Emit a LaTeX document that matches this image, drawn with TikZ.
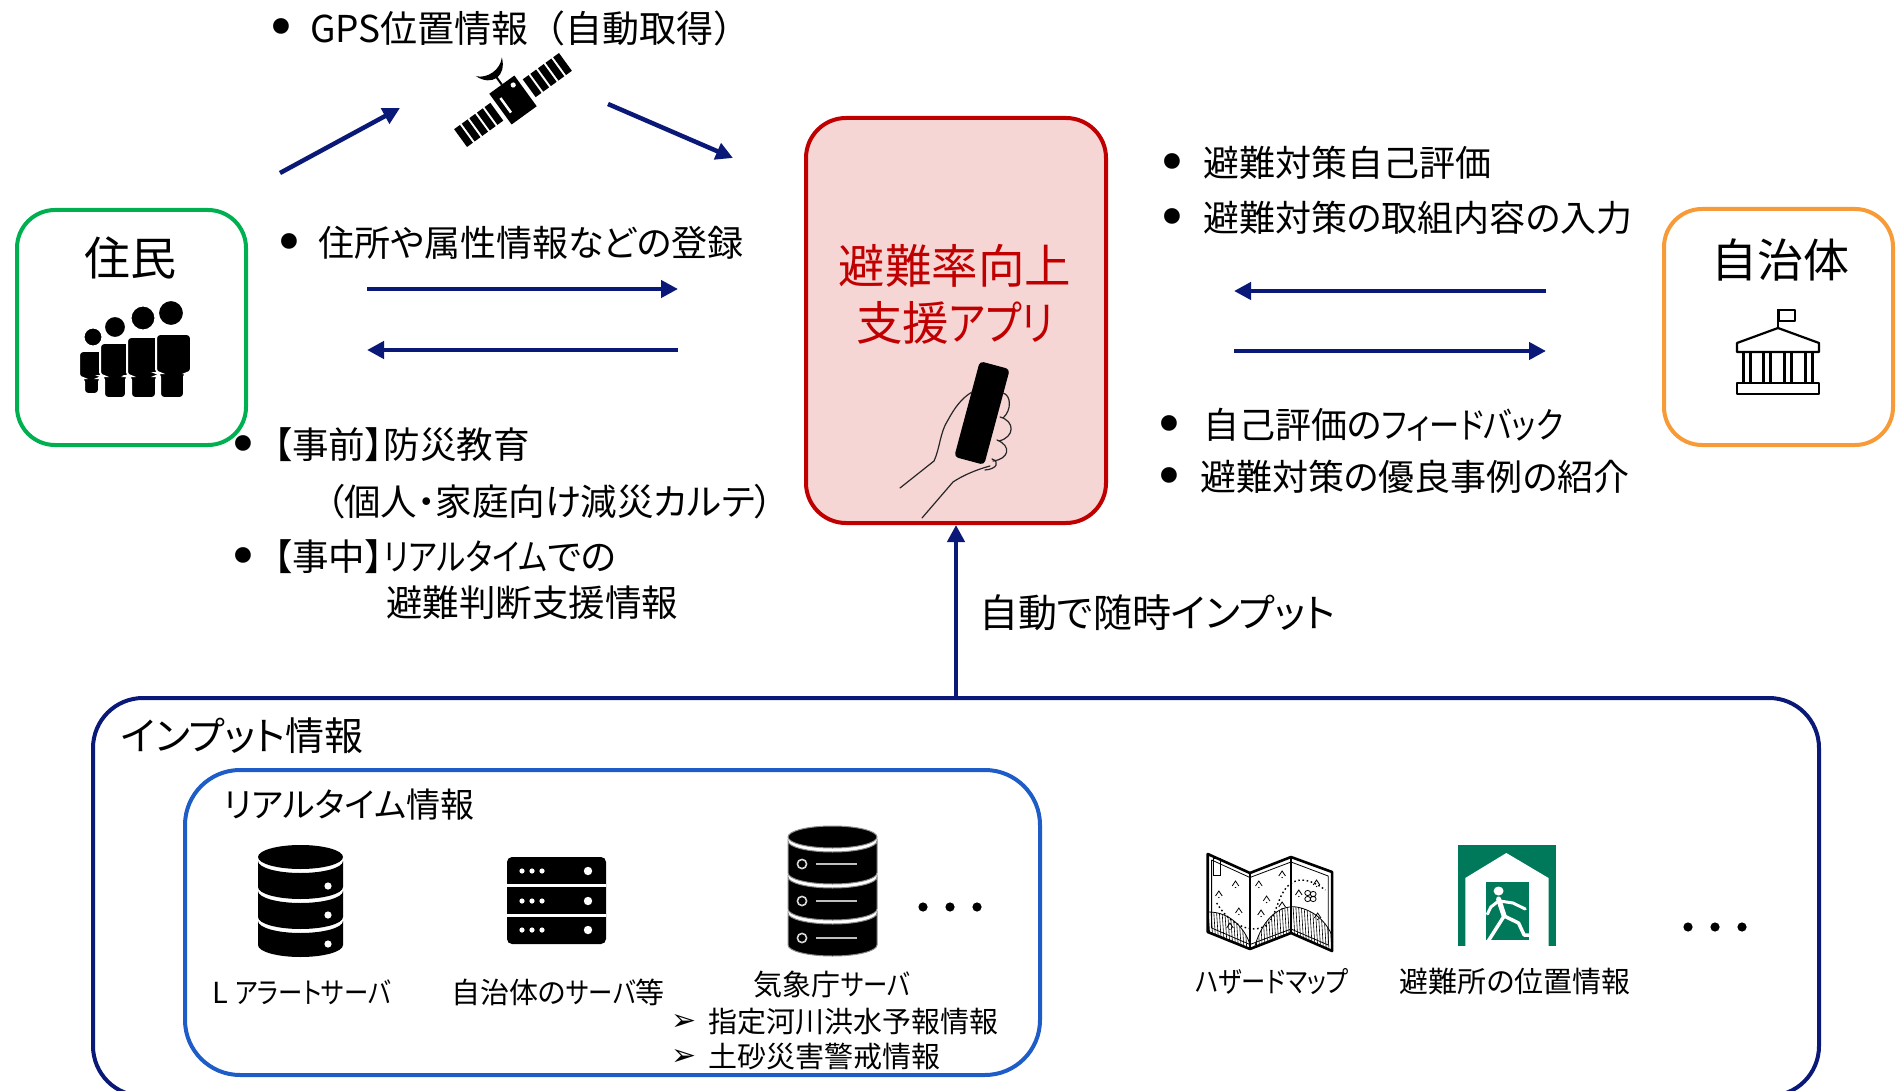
\documentclass[tikz,border=0pt]{standalone}
\usepackage{fontspec}
\newfontfamily\jp[RawFeature=+palt]{Noto Sans CJK JP}
\newfontfamily\jpf{Noto Sans CJK JP}
\newfontfamily\jpn[RawFeature=+palt, FakeStretch=0.84]{Noto Sans CJK JP}
\newfontfamily\symfont{DejaVu Sans}
\newcommand\nk[1]{{\jpn #1}}
\usetikzlibrary{arrows.meta}

\definecolor{navy}{RGB}{10,25,120}
\definecolor{resgreen}{HTML}{00B050}
\definecolor{govorange}{HTML}{F79A38}
\definecolor{appred}{HTML}{C00000}
\definecolor{apppink}{HTML}{F6D5D5}
\definecolor{rtblue}{RGB}{30,92,200}
\definecolor{exitgreen}{HTML}{00785A}

\begin{document}
\begin{tikzpicture}[x=1pt,y=-1pt,
  body/.style={inner sep=0pt, anchor=west, font=\jp\fontsize{36}{42}\selectfont},
  bul/.style={inner sep=0pt, yshift=-5pt, font=\symfont\fontsize{54}{60}\selectfont},
  lbl/.style={inner sep=0pt, font=\jp\fontsize{29}{35}\selectfont},
  arr/.style={draw=navy, line width=4.5pt, -{Triangle[length=17pt,width=17pt]}},
  frame/.style={draw, line width=4pt, inner sep=0pt},
  hand/.style={draw=black!85, line width=1.2pt, line cap=round, line join=round},
]
\useasboundingbox (0,0) rectangle (1904,1091);
\clip (0,0) rectangle (1904,1091);

% ---------- main boxes ----------
\node[frame, draw=resgreen, rounded corners=38pt, minimum width=229pt, minimum height=235pt] (res) at (131.5,327.5) {};
\node[frame, draw=govorange, rounded corners=38pt, minimum width=229pt, minimum height=236pt] (gov) at (1778.5,327) {};
\node[frame, draw=appred, fill=apppink, rounded corners=40pt, minimum width=300pt, minimum height=405pt] (app) at (956,320.5) {};
\node[frame, draw=navy, rounded corners=50pt, minimum width=1726pt, minimum height=398pt] (inp) at (956,897) {};
\node[frame, draw=rtblue, rounded corners=55pt, minimum width=855pt, minimum height=305pt] (rt) at (612.5,922.5) {};

% ---------- box titles ----------
\node[inner sep=0pt, font=\jpf\fontsize{46}{50}\selectfont] (restitle) at (130,258) {住民};
\node[inner sep=0pt, font=\jpf\fontsize{46}{50}\selectfont] (govtitle) at (1780,260) {自治体};
\node[inner sep=0pt, align=center, text=appred, font=\jp\fontsize{46.5}{57}\selectfont] (apptitle) at (955,294) {避難率向上\\支援\nk{アプリ}};
\node[body, font=\jp\fontsize{39}{46}\selectfont] (inptitle) at (121,736) {インプット情報};
\node[body, font=\jp\fontsize{34}{40}\selectfont] (rttitle) at (224,805) {リアルタイム情報};

% ---------- residents icon ----------
\begin{scope}[draw=white, line width=2pt, rounded corners=4pt]
  \filldraw[fill=black] (79,378) -- (79,351) -- (103,351) -- (103,378) -- (99,378) -- (99,394) -- (84,394) -- (84,378) -- cycle;
  \filldraw[fill=black, rounded corners=0pt] (93,337) circle (9.5);
  \filldraw[fill=black] (100,376) -- (100,343) -- (130,343) -- (130,376) -- (126,376) -- (126,398) -- (104,398) -- (104,376) -- cycle;
  \filldraw[fill=black, rounded corners=0pt] (115,327) circle (11);
  \filldraw[fill=black] (127,376) -- (127,337) -- (160,337) -- (160,376) -- (156,376) -- (156,398) -- (131,398) -- (131,376) -- cycle;
  \filldraw[fill=black, rounded corners=0pt] (143,318) circle (12.5);
  \filldraw[fill=black] (156,373) -- (156,334) -- (191,334) -- (191,373) -- (184,373) -- (184,398) -- (160,398) -- (160,373) -- cycle;
  \filldraw[fill=black, rounded corners=0pt] (171,313) circle (13);
\end{scope}

% ---------- municipality icon ----------
\begin{scope}[line width=2.2pt, line join=round]
  \draw (1778,328) -- (1778,309);
  \draw (1779,310) rectangle (1795,321);
  \draw (1778,328) -- (1819,343) -- (1819,352) -- (1737,352) -- (1737,343) -- cycle;
  \foreach \c in {1747,1767,1788,1809} \draw (\c-3.5,352) rectangle (\c+3.5,383);
  \draw (1737,383) rectangle (1819,394);
\end{scope}

% ---------- satellite ----------
\begin{scope}[shift={(513,100)}, rotate=36]
  \fill (-15.5,-19) rectangle (15.5,19);
  \foreach \a in {20,29.4,38.8,48.2,57.6} {
    \fill (\a,-11) rectangle (\a+7.2,11);
    \fill (-\a,-11) rectangle (-\a-7.2,11);
  }
  \fill[white] (9,-12) circle (2.6);
  \draw[white, line width=2.5pt] (-9,-9) -- (-9,9);
  \draw[line width=2pt] (0,-31) -- (0,-19);
  \fill (-16,-41) .. controls (-9,-23) and (9,-23) .. (16,-41) .. controls (8,-32) and (-8,-32) .. cycle;
\end{scope}

% ---------- phone held in a hand ----------
\begin{scope}[shift={(982,413)}, rotate=-15]
  \fill[rounded corners=4pt] (-15.5,-49.5) rectangle (15.5,49.5);
\end{scope}
\draw[hand] (900,488) -- (934,461) .. controls (940,448) and (940,432) .. (948,420)
  .. controls (955,407) and (962,398) .. (972,392);
\draw[hand] (922,518) -- (953,482) .. controls (962,476) and (975,470) .. (990,466);
\draw[hand] (1003,393) .. controls (1011,395) and (1012,410) .. (1003,418);
\draw[hand] (1000,417) .. controls (1015,421) and (1015,437) .. (999,441);
\draw[hand] (997,440) .. controls (1012,446) and (1009,459) .. (993,461);
\draw[hand] (992,459) .. controls (1000,462) and (997,469) .. (985,470);

% ---------- GPS ----------
\node[bul] (b0) at (281,28) {•};
\node[body, font=\jpf\fontsize{37}{42}\selectfont] (tgps) at (310,28) {GPS位置情報（自動取得）};
\coordinate (g1) at (280,173);
\coordinate (g2) at (400,108);
\coordinate (g3) at (608,104);
\coordinate (g4) at (733,158);
\draw[arr] (g1) -- (g2);
\draw[arr] (g3) -- (g4);

% ---------- residents <-> app ----------
\node[bul] (b1) at (289,243) {•};
\node[body] (treg) at (318,243) {住所や属性情報などの登録};
\coordinate (ra1) at (367,289);
\coordinate (ra2) at (678,289);
\coordinate (rb1) at (678,350);
\coordinate (rb2) at (367,350);
\draw[arr] (ra1) -- (ra2);
\draw[arr] (rb1) -- (rb2);

\node[bul] (b2) at (243,445) {•};
\node[body, font=\jp\fontsize{36.5}{42}\selectfont] (tpre) at (274,445) {【事前】防災教育};
\node[body, font=\jp\fontsize{36.5}{42}\selectfont] (tpre2) at (326,502) {（個人・家庭向け減災カルテ）};
\node[bul] (b3) at (243,557) {•};
\node[body, font=\jp\fontsize{36.5}{42}\selectfont] (tdur) at (274,557) {【事中】\nk{リアルタイム}での};
\node[body, font=\jp\fontsize{36.5}{42}\selectfont] (tdur2) at (386,603) {避難判断支援情報};

% ---------- municipality <-> app ----------
\node[bul] (b4) at (1172,163) {•};
\node[body] (tself) at (1203,163) {避難対策自己評価};
\node[bul] (b5) at (1172,218) {•};
\node[body] (tinput) at (1203,218) {避難対策の取組内容の入力};
\coordinate (ga1) at (1546,291);
\coordinate (ga2) at (1234,291);
\coordinate (gb1) at (1234,351);
\coordinate (gb2) at (1546,351);
\draw[arr] (ga1) -- (ga2);
\draw[arr] (gb1) -- (gb2);
\node[bul] (b6) at (1169,425) {•};
\node[body] (tfb) at (1203,425) {自己評価の\nk{フィードバック}};
\node[bul] (b7) at (1169,477) {•};
\node[body] (tcase) at (1200,477) {避難対策の優良事例の紹介};

% ---------- input -> app ----------
\draw[arr] (app.south |- inp.north) -- (app.south);
\node[body, font=\jp\fontsize{39}{46}\selectfont] (tauto) at (979,613) {自動で随時インプット};

% ---------- L alert server (database) ----------
\begin{scope}
  \fill (300.5,857) ellipse [x radius=42.5, y radius=12];
  \foreach \t/\b in {861/887, 891/917, 921/945} {
    \fill (258,\t) arc [start angle=180, end angle=0, x radius=42.5, y radius=12]
      -- (343,\b) arc [start angle=0, end angle=180, x radius=42.5, y radius=12] -- cycle;
  }
  \foreach \y in {886,915,944} \fill[white] (328,\y) circle (3.6);
\end{scope}
\node[lbl] (lalert) at (302,992) {L \nk{アラートサーバ}};

% ---------- municipal server rack ----------
\fill[rounded corners=5pt] (507,857) rectangle (606,944);
\draw[white, line width=3pt] (507,885.5) -- (606,885.5);
\draw[white, line width=3pt] (507,915.5) -- (606,915.5);
\foreach \y in {871,901,930} {
  \foreach \x in {522,532,542} \fill[white] (\x,\y) circle (2.6);
  \fill[white] (588,\y) circle (4.2);
}
\node[lbl] (munisrv) at (558,992) {自治体の\nk{サーバ}等};

% ---------- JMA server (database) ----------
\begin{scope}
  \filldraw[draw=black!45, line width=1pt] (832.5,837) ellipse [x radius=44.5, y radius=11];
  \foreach \t/\b in {841/873, 877/909, 913/945} {
    \filldraw[draw=black!45, line width=1pt] (788,\t) arc [start angle=180, end angle=0, x radius=44.5, y radius=11]
      -- (877,\b) arc [start angle=0, end angle=180, x radius=44.5, y radius=11] -- cycle;
  }
  \foreach \y in {864,901,938} {
    \draw[white!85!black, line width=1.6pt] (802,\y) circle (4.6);
    \draw[white!75!black, line width=1.8pt] (816,\y) -- (857,\y);
  }
\end{scope}
\node[lbl] (jma) at (832,985) {気象庁\nk{サーバ}};
\foreach \x in {923,950,977} \fill (\x,907) circle (4.6);

\node[inner sep=0pt, font=\symfont\fontsize{30}{34}\selectfont] (a1) at (684,1022) {➢};
\node[lbl, anchor=west] (flood) at (708,1022) {指定河川洪水予報情報};
\node[inner sep=0pt, font=\symfont\fontsize{30}{34}\selectfont] (a2) at (684,1057) {➢};
\node[lbl, anchor=west] (landslide) at (708,1057) {土砂災害警戒情報};

% ---------- hazard map ----------
\begin{scope}[shift={(1180,0)}, xscale=1.11, shift={(-1180,0)}]
  \begin{scope}
    \clip (1205,854) -- (1243,873) -- (1280,857) -- (1317,872) -- (1317,951) -- (1280,933) -- (1243,949) -- (1205,932) -- cycle;
    \begin{scope}
      \clip (1206,912) .. controls (1225,912) and (1238,928) .. (1243,944) -- (1243,952) -- (1205,935) -- cycle;
      \foreach \x in {1200,1202.5,...,1250} \draw[line width=0.6pt] (\x,905) -- (\x+3,955);
    \end{scope}
    \begin{scope}
      \clip (1247,948) .. controls (1255,915) and (1272,905) .. (1285,907) .. controls (1300,910) and (1310,920) .. (1316,933) -- (1318,955) -- (1280,936) -- cycle;
      \foreach \x in {1244,1246.5,...,1320} \draw[line width=0.6pt] (\x,900) -- (\x+3,955);
    \end{scope}
    \draw[line width=0.8pt] (1206,912) .. controls (1225,912) and (1238,928) .. (1243,944);
    \draw[line width=0.8pt] (1247,948) .. controls (1255,915) and (1272,905) .. (1285,907) .. controls (1300,910) and (1310,920) .. (1316,933);
  \end{scope}
  \draw[line width=1.4pt, dash pattern=on 1.6pt off 2.6pt] (1213,903) .. controls (1225,925) and (1245,935) .. (1258,925)
    .. controls (1268,915) and (1268,890) .. (1282,882) .. controls (1292,876) and (1305,885) .. (1311,890);
  \foreach \x/\y in {1230/883, 1215/893, 1233/910, 1251/883, 1272/873, 1258/898, 1253/912, 1272/904, 1303/882, 1287/892, 1304/915, 1225/925} {
    \draw[line width=0.8pt] (\x-3,\y+3) -- (\x,\y-2) -- (\x+3,\y+3);
    \fill (\x,\y+4.5) circle (0.7);
  }
  \draw[line width=0.8pt] (1295,893) circle (2.6) (1300,894) circle (2.6) (1295,899) circle (2.6) (1300,899) circle (2.6);
  \draw[line width=0.8pt] (1210,858) rectangle (1216,875);
  \draw[line width=2.6pt, line join=round] (1205,854) -- (1243,873) -- (1280,857) -- (1317,872) -- (1317,951) -- (1280,933) -- (1243,949) -- (1205,932) -- cycle;
  \draw[line width=0.8pt, line join=round] (1208.5,860) -- (1243,877.5) -- (1280,862) -- (1313.5,876) -- (1313.5,945) -- (1280,929) -- (1243,944.5) -- (1208.5,928) -- cycle;
  \draw[line width=1.6pt] (1243,873) -- (1243,949);
  \draw[line width=1.6pt] (1280,857) -- (1280,933);
\end{scope}
\node[lbl] (hazard) at (1272,982) {\nk{ハザードマップ}};

% ---------- shelter (emergency exit) sign ----------
\begin{scope}[shift={(1180,0)}, xscale=1.11, shift={(-1180,0)}]
  \fill[exitgreen] (1430,845) rectangle (1519,946);
  \fill[white] (1437,946) -- (1437,878) -- (1474,853) -- (1512,878) -- (1512,946) -- cycle;
  \fill[exitgreen] (1456,882) rectangle (1494,940);
  \begin{scope}[white, line cap=round, line join=round]
    \fill (1467,891) circle (4.5);
    \draw[line width=5pt] (1467,899) -- (1472,916);
    \draw[line width=3pt] (1468,901) -- (1480,903) -- (1491,909);
    \draw[line width=3pt] (1467,901) -- (1460,907) -- (1457,914);
    \draw[line width=3.5pt] (1472,916) -- (1485,923) -- (1490,935) -- (1501,935);
    \draw[line width=3.5pt] (1472,916) -- (1464,930) -- (1456,944);
  \end{scope}
\end{scope}
\node[lbl] (shelter) at (1515,982) {避難所の位置情報};
\foreach \x in {1688,1715,1742} \fill (\x,927) circle (4.6);

\end{tikzpicture}
\end{document}
